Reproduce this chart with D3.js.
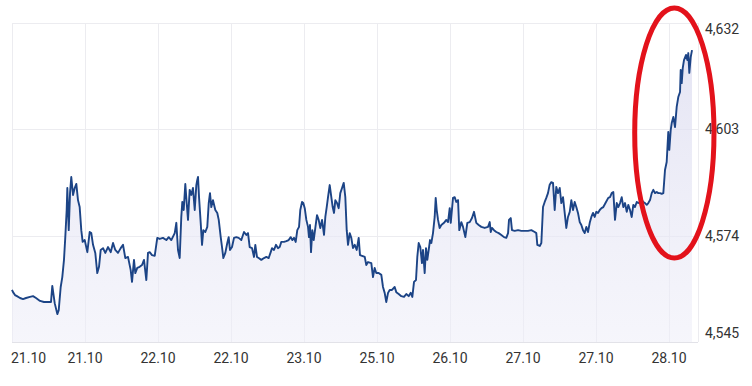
<!DOCTYPE html>
<html>
<head>
<meta charset="utf-8">
<script src="https://cdn.jsdelivr.net/npm/d3@7"></script>
<style>
  html, body { margin: 0; padding: 0; background: #ffffff; }
  svg { display: block; font-family: Roboto, "Noto Sans", Arial, sans-serif; }
</style>
</head>
<body>
<svg id="chart" width="752" height="386"></svg>
<script>
// ---- data (time in session units: one unit per date tick) ----
const tickLabels = ["21.10","21.10","22.10","22.10","23.10","25.10","26.10","27.10","27.10","28.10"];
const tickTimes  = [0,1,2,3,4,5,6,7,8,9];
const yTicks     = [4.545, 4.574, 4.603, 4.632];
const yTickLabels = ["4,545","4,574","4,603","4,632"];

const times = [
0,0.014,0.041,0.068,0.110,0.151,0.192,0.247,0.288,0.329,0.384,0.438,0.493,0.534,0.552,0.585,0.621,0.640,0.667,0.689,
0.712,0.730,0.749,0.758,0.777,0.795,0.812,0.836,0.859,0.881,0.904,0.927,0.949,0.968,0.996,1.032,1.064,1.086,1.110,1.141,
1.168,1.192,1.215,1.247,1.278,1.315,1.352,1.384,1.415,1.452,1.489,1.521,1.552,
1.589,1.626,1.644,1.671,1.689,1.716,1.749,1.781,1.808,1.840,1.863,1.886,1.918,1.955,1.990,2.023,2.068,2.114,2.147,2.182,
2.229,2.251,2.274,2.297,2.319,2.333,2.352,2.374,2.393,2.411,2.434,2.456,2.479,2.503,2.525,2.538,2.548,2.562,2.585,2.603,
2.621,2.648,2.675,2.695,2.712,2.730,2.753,2.785,2.812,2.832,2.859,2.877,2.895,2.922,2.949,2.968,2.986,3.014,3.041,3.073,
3.105,3.141,3.178,3.210,
3.233,3.256,3.288,3.315,3.333,3.356,3.379,3.415,3.452,3.484,3.516,3.544,3.562,3.589,3.616,3.644,3.667,3.689,3.726,3.758,
3.790,3.818,3.840,3.863,3.886,3.908,3.932,3.949,3.973,3.990,4.010,4.032,4.055,4.068,4.082,4.096,4.114,4.133,4.155,4.178,
4.201,4.223,4.247,4.274,4.292,4.311,4.329,4.352,4.370,4.393,4.411,4.429,4.452,4.475,4.497,4.521,4.544,4.566,4.585,4.603,
4.626,4.648,4.671,4.695,4.722,4.749,4.767,4.795,4.832,4.853,
4.877,4.922,4.945,4.968,4.990,5.023,5.059,5.082,5.105,5.127,5.151,5.174,5.205,5.242,5.264,5.297,5.333,5.370,5.401,5.434,
5.462,5.484,5.507,5.534,5.552,5.571,5.593,5.616,5.630,5.653,5.671,5.689,5.708,5.726,5.744,5.767,5.790,5.804,5.818,5.836,
5.858,5.881,5.918,5.949,5.973,5.996,6.010,6.041,6.064,6.086,6.110,6.127,6.155,6.178,6.210,6.237,6.270,6.301,6.329,6.360,
6.393,6.429,6.475,
6.521,6.544,6.558,6.575,6.603,6.634,6.667,6.703,6.740,6.771,6.795,6.808,6.832,6.849,6.886,6.932,6.977,7.023,7.068,7.114,
7.160,7.182,7.196,7.229,7.251,7.274,7.297,7.319,7.342,7.364,7.386,7.411,7.434,7.456,7.479,7.503,7.525,7.548,7.571,7.593,
7.616,7.640,7.662,7.685,7.708,7.730,7.753,7.777,7.799,7.822,7.845,7.867,7.890,7.914,7.936,7.959,7.982,8.004,8.027,8.051,
8.075,8.100,8.137,8.168,8.192,8.215,8.237,8.260,8.284,8.305,8.329,8.352,8.374,8.397,8.421,8.442,8.466,8.489,8.511,8.534,
8.558,8.579,8.603,8.626,8.648,8.671,8.695,8.716,8.740,8.763,8.785,8.808,8.832,8.853,8.877,8.900,8.922,8.945,8.968,8.990,
9.004,9.023,9.037,9.059,9.082,9.105,9.127,9.151,9.160,9.174,9.188,9.205,9.233,9.251,9.264,9.278,9.297,9.315
];

const prices = [
4.5592,4.5586,4.5578,4.5575,4.5570,4.5567,4.5570,4.5573,4.5575,4.5570,4.5562,4.5559,4.5559,4.5559,4.5603,4.5556,4.5526,4.5537,4.5600,4.5627,
4.5674,4.5736,4.5810,4.5870,4.5755,4.5856,4.5900,4.5851,4.5870,4.5881,4.5837,4.5818,4.5755,4.5723,4.5728,4.5695,4.5750,4.5747,4.5715,4.5693,
4.5638,4.5655,4.5701,4.5706,4.5693,4.5709,4.5695,4.5720,4.5701,4.5693,4.5706,4.5715,4.5679,
4.5682,4.5646,4.5614,4.5674,4.5638,4.5652,4.5655,4.5660,4.5674,4.5619,4.5693,4.5695,4.5687,4.5685,4.5734,4.5731,4.5734,4.5728,4.5736,4.5728,
4.5747,4.5775,4.5701,4.5679,4.5791,4.5832,4.5810,4.5881,4.5829,4.5783,4.5865,4.5851,4.5870,4.5810,4.5878,4.5892,4.5900,4.5845,4.5775,4.5715,
4.5755,4.5750,4.5764,4.5829,4.5856,4.5818,4.5837,4.5810,4.5802,4.5783,4.5736,4.5709,4.5679,4.5693,4.5720,4.5736,4.5701,4.5709,4.5734,4.5736,
4.5734,4.5728,4.5750,4.5742,
4.5747,4.5709,4.5706,4.5682,4.5715,4.5682,4.5679,4.5674,4.5679,4.5682,4.5679,4.5695,4.5706,4.5701,4.5715,4.5706,4.5709,4.5723,4.5723,4.5725,
4.5728,4.5736,4.5728,4.5734,4.5723,4.5755,4.5764,4.5810,4.5832,4.5829,4.5815,4.5783,4.5764,4.5736,4.5769,4.5695,4.5755,4.5728,4.5761,4.5796,
4.5783,4.5761,4.5783,4.5742,4.5791,4.5818,4.5845,4.5878,4.5851,4.5818,4.5802,4.5837,4.5829,4.5815,4.5856,4.5870,4.5884,4.5845,4.5755,4.5715,
4.5747,4.5734,4.5706,4.5715,4.5701,4.5734,4.5687,4.5685,4.5682,4.5660,
4.5668,4.5665,4.5627,4.5652,4.5638,4.5638,4.5633,4.5600,4.5584,4.5559,4.5584,4.5592,4.5592,4.5600,4.5586,4.5581,4.5575,4.5573,4.5581,4.5575,
4.5584,4.5573,4.5614,4.5619,4.5682,4.5720,4.5709,4.5665,4.5701,4.5638,4.5706,4.5674,4.5701,4.5728,4.5720,4.5747,4.5791,4.5843,4.5810,4.5783,
4.5761,4.5769,4.5775,4.5783,4.5777,4.5815,4.5775,4.5843,4.5845,4.5832,4.5837,4.5755,4.5777,4.5764,4.5736,4.5775,4.5777,4.5788,4.5805,4.5775,
4.5769,4.5764,4.5761,
4.5764,4.5777,4.5750,4.5761,4.5755,4.5750,4.5747,4.5742,4.5736,4.5734,4.5747,4.5783,4.5788,4.5755,4.5753,4.5755,4.5753,4.5753,4.5753,4.5755,
4.5750,4.5747,4.5715,4.5712,4.5720,4.5818,4.5832,4.5843,4.5856,4.5878,4.5886,4.5884,4.5810,4.5873,4.5856,4.5870,4.5829,4.5845,4.5802,4.5761,
4.5791,4.5805,4.5837,4.5810,4.5832,4.5818,4.5802,4.5777,4.5769,4.5755,4.5747,4.5764,4.5750,4.5775,4.5791,4.5802,4.5791,4.5805,4.5802,4.5810,
4.5815,4.5818,4.5832,4.5843,4.5845,4.5856,4.5859,4.5783,4.5829,4.5818,4.5829,4.5845,4.5818,4.5829,4.5805,4.5824,4.5810,4.5791,4.5824,4.5818,
4.5832,4.5829,4.5832,4.5837,4.5832,4.5829,4.5824,4.5829,4.5837,4.5856,4.5865,4.5856,4.5859,4.5856,4.5856,4.5854,4.5856,4.5919,4.5941,4.6023,
4.5974,4.6028,4.6047,4.6064,4.6036,4.6091,4.6118,4.6132,4.6192,4.6156,4.6197,4.6219,4.6233,4.6219,4.6238,4.6184,4.6227,4.6246
];

// annotation ellipse bounds in data units
const highlightTime  = [8.530, 9.616];
const highlightPrice = [4.5679, 4.6361];

// ---- layout ----
const W = 752, H = 386;
const margin = { left: 12, right: 54, top: 23, bottom: 44 };
const plotW = W - margin.left - margin.right;
const plotH = H - margin.top - margin.bottom;

const svg = d3.select("#chart");
const x = d3.scaleLinear().domain([0, 9.397]).range([margin.left, margin.left + plotW]);
const y = d3.scaleLinear().domain([4.545, 4.632]).range([margin.top + plotH, margin.top]);

const data = times.map((t, i) => ({ t, v: prices[i] }));

// gradient
const defs = svg.append("defs");
const grad = defs.append("linearGradient").attr("id", "fillGrad")
  .attr("x1", 0).attr("y1", 0).attr("x2", 0).attr("y2", 1);
grad.append("stop").attr("offset", "0%").attr("stop-color", "#dcdcf0").attr("stop-opacity", 0.75);
grad.append("stop").attr("offset", "100%").attr("stop-color", "#eeeef8").attr("stop-opacity", 0.55);

// grid
const grid = svg.append("g");
grid.selectAll("line.v").data(tickTimes).enter().append("line")
  .attr("x1", d => Math.round(x(d)) + 0.5).attr("x2", d => Math.round(x(d)) + 0.5)
  .attr("y1", margin.top).attr("y2", margin.top + plotH)
  .attr("stroke", "#ececf0").attr("stroke-width", 1);
grid.append("line")
  .attr("x1", margin.left + plotW + 0.5).attr("x2", margin.left + plotW + 0.5)
  .attr("y1", margin.top).attr("y2", margin.top + plotH)
  .attr("stroke", "#ececf0");
grid.selectAll("line.h").data(yTicks).enter().append("line")
  .attr("x1", margin.left).attr("x2", margin.left + plotW)
  .attr("y1", d => Math.round(y(d)) + 0.5).attr("y2", d => Math.round(y(d)) + 0.5)
  .attr("stroke", (d, i) => i === 0 ? "#e2e2e8" : "#ececf0").attr("stroke-width", 1);

// area + line
const area = d3.area().x(d => x(d.t)).y0(y(4.545)).y1(d => y(d.v));
svg.append("path").datum(data).attr("d", area).attr("fill", "url(#fillGrad)");

const line = d3.line().x(d => x(d.t)).y(d => y(d.v));
svg.append("path").datum(data).attr("d", line)
  .attr("fill", "none").attr("stroke", "#1c4486").attr("stroke-width", 1.9)
  .attr("stroke-linejoin", "round");

// y labels (right)
svg.append("g").selectAll("text").data(yTicks).enter().append("text")
  .attr("x", margin.left + plotW + 7)
  .attr("y", d => Math.min(Math.max(y(d), margin.top + 6), margin.top + plotH - 9))
  .attr("dy", "0.35em")
  .attr("font-size", 14).attr("fill", "#333")
  .text((d, i) => yTickLabels[i]);

// x labels
svg.append("g").selectAll("text").data(tickTimes).enter().append("text")
  .attr("x", (d, i) => i === 0 ? margin.left - 1 : x(d))
  .attr("y", margin.top + plotH + 16)
  .attr("dy", "0.35em")
  .attr("text-anchor", (d, i) => i === 0 ? "start" : "middle")
  .attr("font-size", 14).attr("fill", "#333")
  .text((d, i) => tickLabels[i]);

// red highlight ellipse
const ex0 = x(highlightTime[0]), ex1 = x(highlightTime[1]);
const ey0 = y(highlightPrice[1]), ey1 = y(highlightPrice[0]);
svg.append("ellipse")
  .attr("cx", (ex0 + ex1) / 2).attr("cy", (ey0 + ey1) / 2)
  .attr("rx", (ex1 - ex0) / 2).attr("ry", (ey1 - ey0) / 2)
  .attr("fill", "none").attr("stroke", "#e3121b").attr("stroke-width", 5);
</script>
</body>
</html>
